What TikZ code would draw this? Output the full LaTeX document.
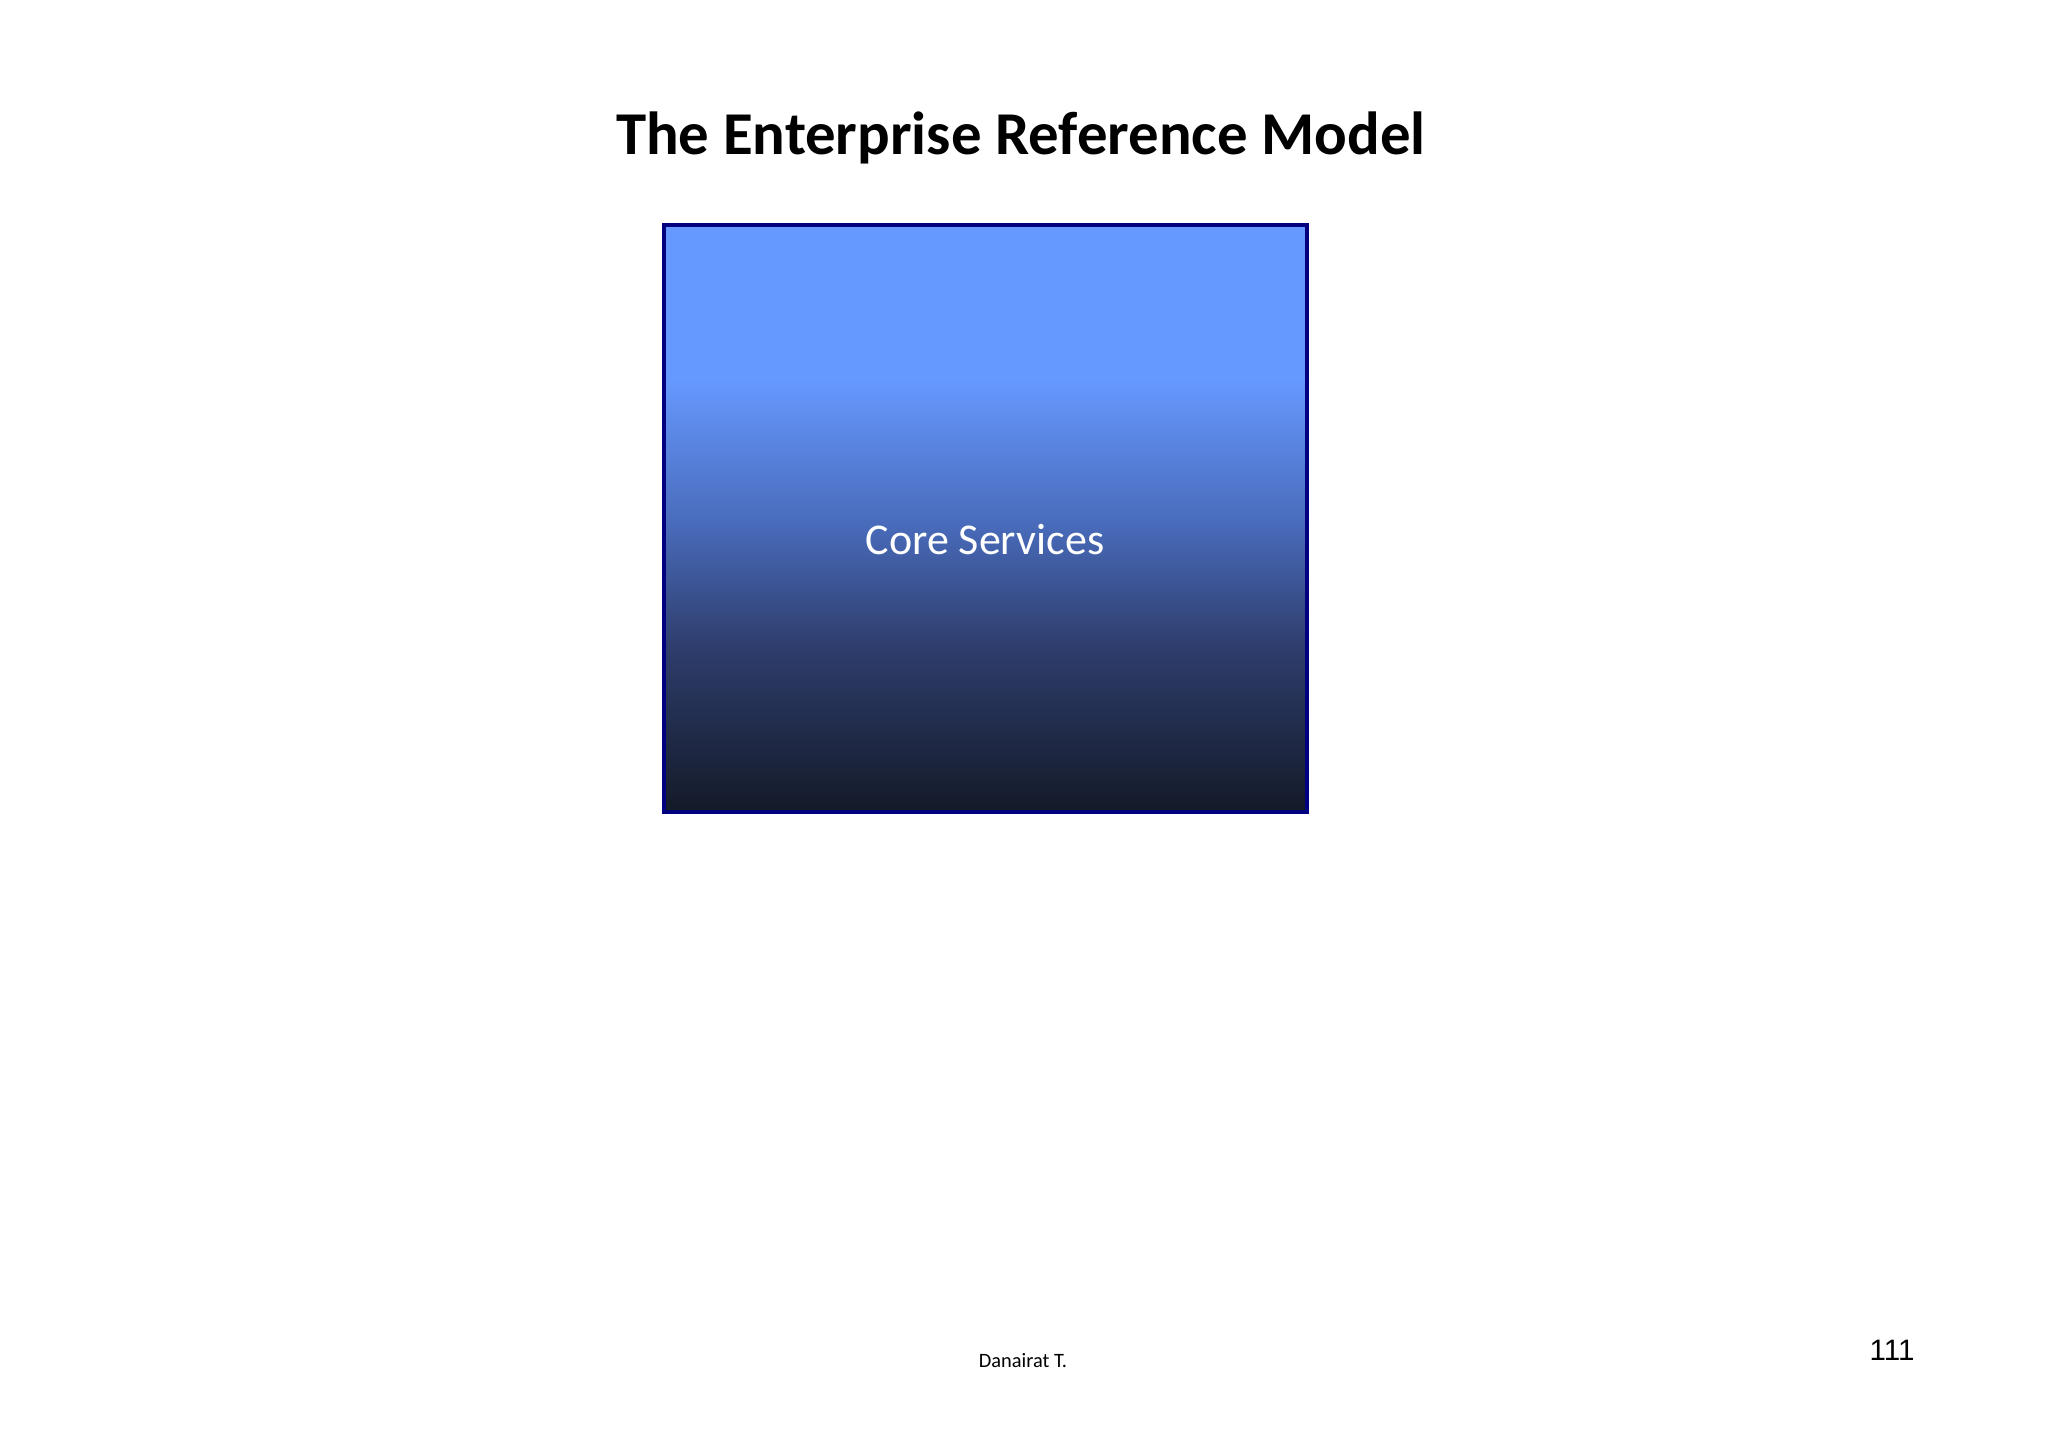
\documentclass[tikz,border=0pt]{standalone}
\usepackage{fontspec}
\setmainfont{Carlito}
\newfontfamily\arialfont{Liberation Sans}
\usepackage{tikz}
\usetikzlibrary{positioning}
\usepackage{xcolor}

\definecolor{navyedge}{HTML}{000080}
\definecolor{topblue}{HTML}{6699FF}
\definecolor{midblue}{HTML}{4A6DBE}
\definecolor{lowblue}{HTML}{2E3D6C}
\definecolor{deepblue}{HTML}{131A28}

\pgfdeclareverticalshading{coreshade}{100bp}{%
  color(0bp)=(deepblue); color(25bp)=(deepblue); color(39bp)=(lowblue);
  color(50bp)=(midblue); color(62bp)=(topblue); color(75bp)=(topblue);
  color(100bp)=(topblue)}

\tikzset{
  slidetitle/.style={anchor=base, inner sep=0pt, font=\bfseries\fontsize{17.3}{21}\selectfont},
  corebox/.style={draw=navyedge, line width=1pt, shading=coreshade, inner sep=0pt},
  corelabel/.style={anchor=base, inner sep=0pt, text=white, font=\fontsize{12.5}{15}\selectfont},
  footer/.style={anchor=base, inner sep=0pt, font=\fontsize{5.8}{7}\selectfont},
  pagenum/.style={anchor=base, inner sep=0pt, font=\arialfont\fontsize{8.4}{10}\selectfont}
}

\begin{document}
\begin{tikzpicture}[x=0.01cm, y=-0.01cm]
  \useasboundingbox (0,0) rectangle (2048,1448);
  % Title
  \node[slidetitle] (title) at (1021,154) {The Enterprise Reference Model};
  % Core services box
  \coordinate (boxNW) at (664,225);
  \coordinate (boxSE) at (1307,812);
  \shade[corebox] (boxNW) rectangle (boxSE);
  \node[corelabel] (core) at (985,554) {Core Services};
  % Footer
  \node[footer] (author) at (1023,1367) {Danairat T.};
  \node[pagenum] (page) at (1892,1360) {111};
\end{tikzpicture}
\end{document}
